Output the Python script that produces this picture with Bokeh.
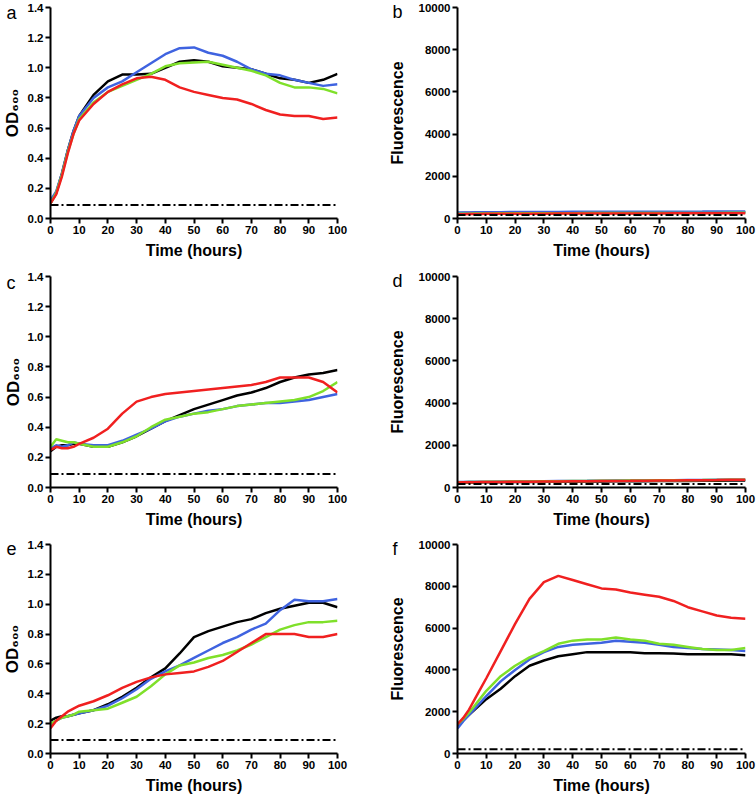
from bokeh.plotting import figure
from bokeh.layouts import column, row
from bokeh.models import (Range1d, FixedTicker, NumeralTickFormatter, Span,
                          LinearAxis, CustomJSTickFormatter)
from bokeh.embed import file_html
from bokeh.resources import INLINE

# ---------------- data ----------------
TIME = [0, 2, 4, 6, 8, 10, 15, 20, 25, 30, 35, 40, 45, 50, 55, 60, 65, 70, 75, 80, 85, 90, 95, 100]
X_TICKS = [0, 10, 20, 30, 40, 50, 60, 70, 80, 90, 100]
OD_TICKS = [0.0, 0.2, 0.4, 0.6, 0.8, 1.0, 1.2, 1.4]
FL_TICKS = [0, 2000, 4000, 6000, 8000, 10000]
BLANK_OD = 0.09
BLANK_FL = 170
BLANK_FL_F = 200

# panel a (OD600)
a_black = [0.10, 0.17, 0.30, 0.45, 0.58, 0.68, 0.82, 0.91, 0.955, 0.955, 0.96, 1.00, 1.04, 1.05, 1.04, 1.01, 1.00, 0.99, 0.96, 0.93, 0.92, 0.90, 0.92, 0.96]
a_blue = [0.12, 0.18, 0.30, 0.45, 0.58, 0.68, 0.80, 0.87, 0.91, 0.97, 1.03, 1.09, 1.13, 1.135, 1.10, 1.08, 1.04, 0.99, 0.96, 0.95, 0.92, 0.90, 0.88, 0.89]
a_green = [0.10, 0.17, 0.29, 0.44, 0.56, 0.66, 0.77, 0.84, 0.88, 0.92, 0.96, 1.01, 1.03, 1.035, 1.04, 1.02, 1.00, 0.98, 0.95, 0.90, 0.87, 0.87, 0.86, 0.83]
a_red = [0.10, 0.16, 0.28, 0.43, 0.56, 0.65, 0.76, 0.84, 0.89, 0.93, 0.94, 0.92, 0.87, 0.84, 0.82, 0.80, 0.79, 0.76, 0.72, 0.69, 0.68, 0.68, 0.66, 0.67]

# panel b (fluorescence)
b_black = [250, 255, 258, 260, 262, 264, 268, 270, 272, 274, 276, 277, 278, 280, 281, 282, 284, 285, 286, 288, 289, 290, 292, 294]
b_blue = [280, 285, 290, 293, 296, 298, 302, 306, 308, 310, 312, 314, 315, 316, 318, 320, 321, 322, 324, 325, 326, 328, 330, 332]
b_green = [220, 226, 230, 234, 237, 240, 244, 247, 249, 251, 253, 254, 256, 257, 258, 260, 261, 262, 263, 264, 265, 266, 267, 268]
b_red = [200, 206, 210, 214, 217, 220, 224, 227, 229, 231, 233, 234, 236, 237, 238, 240, 241, 242, 243, 244, 245, 246, 247, 248]

# panel c (OD600)
c_black = [0.24, 0.27, 0.28, 0.28, 0.29, 0.29, 0.27, 0.27, 0.30, 0.34, 0.39, 0.44, 0.48, 0.52, 0.55, 0.58, 0.61, 0.63, 0.66, 0.70, 0.73, 0.75, 0.76, 0.78]
c_blue = [0.26, 0.28, 0.27, 0.28, 0.30, 0.29, 0.28, 0.28, 0.31, 0.35, 0.39, 0.44, 0.47, 0.49, 0.51, 0.52, 0.54, 0.55, 0.56, 0.56, 0.57, 0.58, 0.60, 0.62]
c_green = [0.27, 0.32, 0.31, 0.30, 0.30, 0.29, 0.27, 0.27, 0.30, 0.34, 0.40, 0.45, 0.47, 0.49, 0.50, 0.52, 0.54, 0.55, 0.56, 0.57, 0.58, 0.60, 0.64, 0.70]
c_red = [0.25, 0.27, 0.26, 0.26, 0.27, 0.29, 0.33, 0.39, 0.49, 0.57, 0.60, 0.62, 0.63, 0.64, 0.65, 0.66, 0.67, 0.68, 0.70, 0.73, 0.73, 0.73, 0.70, 0.63]

# panel d (fluorescence)
d_black = [230, 234, 238, 241, 244, 247, 252, 258, 263, 268, 273, 278, 283, 288, 292, 296, 300, 305, 309, 313, 318, 322, 326, 330]
d_blue = [260, 264, 268, 272, 275, 278, 284, 290, 295, 301, 307, 312, 317, 323, 328, 333, 338, 343, 348, 354, 359, 364, 368, 372]
d_green = [250, 254, 258, 262, 266, 270, 276, 282, 288, 294, 300, 305, 311, 316, 322, 327, 332, 338, 344, 349, 354, 360, 365, 370]
d_red = [240, 244, 248, 252, 256, 259, 266, 272, 278, 284, 290, 296, 302, 307, 313, 318, 324, 330, 336, 342, 348, 354, 362, 370]

# panel e (OD600)
e_black = [0.22, 0.24, 0.25, 0.25, 0.26, 0.27, 0.29, 0.33, 0.38, 0.44, 0.51, 0.57, 0.67, 0.78, 0.82, 0.85, 0.88, 0.90, 0.94, 0.97, 0.99, 1.01, 1.01, 0.98]
e_blue = [0.20, 0.22, 0.24, 0.25, 0.26, 0.27, 0.29, 0.32, 0.37, 0.43, 0.50, 0.55, 0.59, 0.64, 0.69, 0.74, 0.78, 0.83, 0.87, 0.96, 1.03, 1.02, 1.02, 1.035]
e_green = [0.20, 0.22, 0.24, 0.25, 0.26, 0.28, 0.29, 0.30, 0.34, 0.38, 0.45, 0.53, 0.59, 0.61, 0.64, 0.66, 0.69, 0.73, 0.78, 0.83, 0.86, 0.88, 0.88, 0.89]
e_red = [0.17, 0.22, 0.25, 0.28, 0.30, 0.32, 0.35, 0.39, 0.44, 0.48, 0.51, 0.53, 0.54, 0.55, 0.58, 0.62, 0.68, 0.74, 0.80, 0.80, 0.80, 0.78, 0.78, 0.80]

# panel f (fluorescence)
f_black = [1300, 1600, 1850, 2100, 2350, 2600, 3100, 3700, 4200, 4450, 4650, 4750, 4850, 4850, 4850, 4850, 4800, 4800, 4780, 4750, 4750, 4750, 4750, 4700]
f_blue = [1200, 1550, 1850, 2150, 2450, 2750, 3450, 4000, 4500, 4850, 5100, 5200, 5250, 5300, 5400, 5350, 5300, 5200, 5100, 5050, 5000, 4980, 4950, 4900]
f_green = [1400, 1650, 1950, 2300, 2650, 3000, 3700, 4200, 4600, 4900, 5250, 5400, 5450, 5450, 5550, 5450, 5400, 5250, 5200, 5100, 5000, 4950, 4950, 5050]
f_red = [1400, 1700, 2100, 2600, 3100, 3600, 4900, 6200, 7400, 8200, 8500, 8300, 8100, 7900, 7850, 7700, 7600, 7500, 7300, 7000, 6800, 6600, 6500, 6450]

COLORS = ["#000000", "#3f63e0", "#7fe02a", "#f02020"]
FONT = "Liberation Sans"
LETTER_W = {"a": 10, "b": 10, "c": 9, "d": 10, "e": 10, "f": 5}


def make_panel(letter, series, kind, blank, w, h, bl, br, bt, bb, letter_dy):
    ymax = 1.4 if kind == "od" else 10000
    p = figure(width=w, height=h, output_backend="svg", toolbar_location=None,
               x_range=Range1d(0, 100), y_range=Range1d(0, ymax),
               min_border_left=bl, min_border_right=br,
               min_border_top=bt, min_border_bottom=bb)
    p.grid.visible = False
    p.outline_line_color = None
    p.background_fill_color = "white"
    p.border_fill_color = "white"

    for ax in (p.xaxis[0], p.yaxis[0]):
        ax.axis_line_width = 2
        ax.axis_line_color = "black"
        ax.major_tick_line_width = 2
        ax.major_tick_line_color = "black"
        ax.major_tick_out = 5
        ax.major_tick_in = 0
        ax.minor_tick_line_color = None
        ax.major_label_text_font = FONT
        ax.major_label_text_font_style = "bold"
        ax.major_label_text_font_size = "11.5px"
        ax.major_label_text_color = "black"
        ax.axis_label_text_font = FONT
        ax.axis_label_text_font_style = "bold"
        ax.axis_label_text_font_size = "16px"
        ax.axis_label_text_color = "black"

    fh = h - bt - bb

    p.xaxis[0].ticker = FixedTicker(ticks=X_TICKS)
    p.xaxis[0].axis_label = "Time (hours)"
    p.xaxis[0].major_label_standoff = 2
    p.xaxis[0].axis_label_standoff = 5
    p.yaxis[0].major_label_standoff = 2
    p.yaxis[0].axis_label = None

    lw = LETTER_W[letter]
    if kind == "od":
        p.yaxis[0].ticker = FixedTicker(ticks=OD_TICKS)
        p.yaxis[0].formatter = NumeralTickFormatter(format="0.0")
        title = "OD\u2086\u2080\u2080"
        title_size = "17px"
        title_standoff = -19
        letter_standoff = 18 - lw
        line_h = 1.0
    else:
        p.yaxis[0].ticker = FixedTicker(ticks=FL_TICKS)
        p.yaxis[0].formatter = NumeralTickFormatter(format="0")
        title = "Fluorescence"
        title_size = "16px"
        title_standoff = -17
        letter_standoff = 23 - lw
        line_h = 1.2

    # outer axis: carries the panel letter (as its single tick label) and the y title
    outer = LinearAxis(
        ticker=FixedTicker(ticks=[ymax - ymax * letter_dy / fh]),
        formatter=CustomJSTickFormatter(code="return '%s';" % letter),
        axis_line_color=None, major_tick_line_color=None, minor_tick_line_color=None,
        major_tick_out=0, major_tick_in=0,
        major_label_standoff=letter_standoff,
        major_label_text_font=FONT, major_label_text_font_size="18px",
        major_label_text_font_style="normal", major_label_text_color="black",
        axis_label=title, axis_label_standoff=title_standoff,
        axis_label_text_font=FONT, axis_label_text_font_style="bold",
        axis_label_text_font_size=title_size, axis_label_text_color="black",
        axis_label_text_line_height=line_h)
    p.add_layout(outer, "left")

    p.add_layout(Span(location=blank, dimension="width", line_color="black",
                      line_width=2, line_dash="8 3 2 3"))

    for vals, col in zip(series, COLORS):
        p.line(TIME, vals, line_color=col, line_width=2.5)
    return p


pa = make_panel("a", [a_black, a_blue, a_green, a_red], "od", BLANK_OD, 378, 269, 49, 41, 7, 51, 5.5)
pb = make_panel("b", [b_black, b_blue, b_green, b_red], "fl", BLANK_FL, 378, 269, 79, 11, 7, 51, 4)
pc = make_panel("c", [c_black, c_blue, c_green, c_red], "od", BLANK_OD, 378, 269, 49, 41, 7, 51, 6)
pd = make_panel("d", [d_black, d_blue, d_green, d_red], "fl", BLANK_FL, 378, 269, 79, 11, 7, 51, 4)
pe = make_panel("e", [e_black, e_blue, e_green, e_red], "od", BLANK_OD, 378, 263, 49, 41, 6, 48, 3.5)
pf = make_panel("f", [f_black, f_blue, f_green, f_red], "fl", BLANK_FL_F, 378, 263, 79, 11, 6, 48, 3.5)

layout = column(row(pa, pb), row(pc, pd), row(pe, pf))

with open("out.html", "w") as fh_out:
    fh_out.write(file_html(layout, INLINE))
